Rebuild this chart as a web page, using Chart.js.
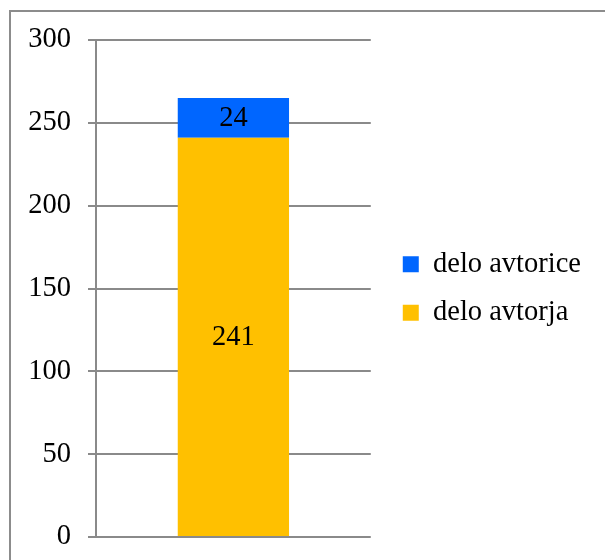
<!DOCTYPE html>
<html>
<head>
<meta charset="utf-8">
<script src="https://cdn.jsdelivr.net/npm/chart.js@4"></script>
<style>
  html, body { margin: 0; padding: 0; background: #fff; }
  #wrap { position: relative; width: 605px; height: 560px; }
  #frame { position: absolute; left: 9px; top: 10px; right: 0; bottom: 0;
           border-top: 2px solid #8c8c8c; border-left: 2px solid #8c8c8c; }
  canvas { position: absolute; left: 0; top: 0; }
</style>
</head>
<body>
<div id="wrap">
  <div id="frame"></div>
  <canvas id="chart" width="605" height="560"></canvas>
</div>
<script>
const categories = [""];
const seriesNames = ["delo avtorice", "delo avtorja"];
const avtorice = [24];
const avtorja = [241];
const yTicks = [0, 50, 100, 150, 200, 250, 300];

const font = "'Liberation Serif', 'Times New Roman', serif";

// draws the value in the middle of each bar segment
const barLabels = {
  id: "barLabels",
  afterDatasetsDraw(chart) {
    const ctx = chart.ctx;
    ctx.save();
    ctx.font = "28.5px " + font;
    ctx.fillStyle = "#000";
    ctx.textAlign = "center";
    ctx.textBaseline = "middle";
    chart.data.datasets.forEach((ds, i) => {
      chart.getDatasetMeta(i).data.forEach((bar, j) => {
        const mid = (bar.y + bar.base) / 2;
        ctx.fillText(String(ds.data[j]), bar.x, mid + 1);
      });
    });
    ctx.restore();
  }
};

new Chart(document.getElementById("chart"), {
  type: "bar",
  data: {
    labels: categories,
    datasets: [
      { label: seriesNames[1], data: avtorja, backgroundColor: "#ffc000" },
      { label: seriesNames[0], data: avtorice, backgroundColor: "#0066ff" }
    ]
  },
  options: {
    responsive: false,
    animation: false,
    layout: { padding: { left: 0, top: 40, bottom: 23, right: 14 } },
    datasets: { bar: { categoryPercentage: 1, barPercentage: 0.405 } },
    scales: {
      x: { stacked: true, display: false },
      y: {
        stacked: true,
        min: 0,
        max: 300,
        afterFit: (s) => {
          s.width = 96;
          s.paddingTop = 0;
          s.paddingBottom = 0;
        },
        afterBuildTicks: (s) => { s.ticks = yTicks.map(v => ({ value: v })); },
        ticks: { padding: 17, color: "#000", font: { family: font, size: 28.5 } },
        grid: { color: "#8a8a8a", lineWidth: 2, tickLength: 8 },
        border: { color: "#8a8a8a", width: 2 }
      },
      yR: {
        position: "right",
        display: true,
        grid: { display: false },
        ticks: { display: false },
        border: { display: false },
        afterFit: (s) => { s.width = 12; }
      }
    },
    plugins: {
      legend: {
        position: "right",
        reverse: true,
        maxWidth: 240,
        labels: {
          boxWidth: 16,
          boxHeight: 16,
          padding: 20,
          color: "#000",
          font: { family: font, size: 28.5 }
        }
      },
      tooltip: { enabled: false }
    }
  },
  plugins: [barLabels]
});
</script>
</body>
</html>
